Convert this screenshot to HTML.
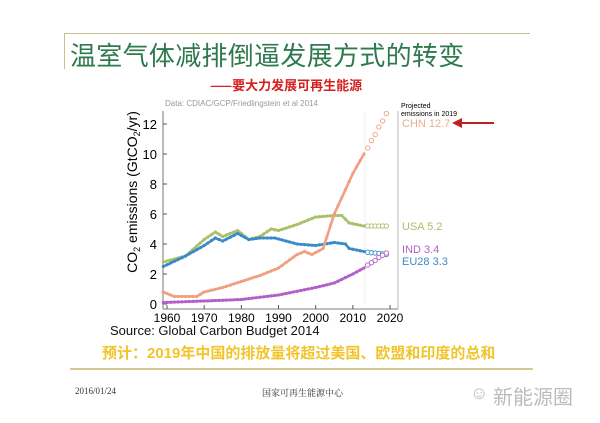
<!DOCTYPE html>
<html><head><meta charset="utf-8"><style>
body{margin:0;width:600px;height:423px;background:#fff;position:relative;overflow:hidden;font-family:"Liberation Sans","Noto Sans CJK SC",sans-serif}
.a{position:absolute;white-space:nowrap}
</style></head><body>
<div class="a" style="left:65px;top:33px;width:465px;height:1px;background:#c8c090"></div>
<div class="a" style="left:64px;top:33px;width:1px;height:36px;background:#c8c090"></div>
<div class="a" style="left:70px;top:36px;font-size:26px;color:#2e7a4e;font-family:'Noto Sans CJK SC',sans-serif;letter-spacing:0.3px">温室气体减排倒逼发展方式的转变</div>
<div class="a" style="left:210px;top:75px;font-size:13px;font-weight:bold;color:#d42020;font-family:'Noto Sans CJK SC',sans-serif">——要大力发展可再生能源</div>
<svg class="a" style="left:0;top:0" width="600" height="423" id="s"></svg>
<div class="a" style="left:110px;top:323px;font-size:13px;color:#111">Source: Global Carbon Budget 2014</div>
<div class="a" style="left:102px;top:342px;font-size:15px;font-weight:bold;color:#f2c42a;font-family:'Liberation Sans','Noto Sans CJK SC',sans-serif">预计：2019年中国的排放量将超过美国、欧盟和印度的总和</div>
<div class="a" style="left:70px;top:368px;width:463px;height:2px;background:#d8c890"></div>
<div class="a" style="left:75px;top:386px;font-size:9px;font-family:'Liberation Serif',serif;color:#333">2016/01/24</div>
<div class="a" style="left:262px;top:386px;font-size:9px;font-family:'Noto Serif CJK SC',serif;color:#333">国家可再生能源中心</div>
<div class="a" style="left:493px;top:381px;font-size:20px;color:#bbb;font-family:'Noto Sans CJK SC',sans-serif">新能源圈</div>
<div class="a" style="left:470px;top:383px;font-size:18px;color:#bbb">☺</div>
<script>
const s=document.getElementById('s');let h='';
const X=y=>167+(y-1960)*3.717, Y=v=>304-v*15;
function interp(k,y){for(let i=0;i<k.length-1;i++){if(y>=k[i][0]&&y<=k[i+1][0]){const t=(y-k[i][0])/(k[i+1][0]-k[i][0]);return k[i][1]+t*(k[i+1][1]-k[i][1]);}}return k[k.length-1][1];}
function series(k,col,end,proj){let pts=[];for(let y=1959;y<=end;y+=0.5)pts.push(X(y).toFixed(1)+','+Y(interp(k,y)).toFixed(1));
h+=`<polyline points="${pts.join(' ')}" fill="none" stroke="${col}" stroke-width="2.6"/>`;
for(let y=1959;y<=end;y++)h+=`<circle cx="${X(y)}" cy="${Y(interp(k,y))}" r="1.6" fill="${col}"/>`;
for(const [y,v] of proj)h+=`<circle cx="${X(y)}" cy="${Y(v)}" r="2.2" fill="#fff" stroke="${col}" stroke-width="0.9"/>`;}
h+=`<line x1="163" y1="111" x2="163" y2="309" stroke="#555" stroke-width="0.8"/><line x1="163" y1="309" x2="398" y2="309" stroke="#555" stroke-width="0.8"/><line x1="398" y1="111" x2="398" y2="309" stroke="#888" stroke-width="0.6"/>`;
h+=`<line x1="365" y1="112" x2="365" y2="304" stroke="#ccc" stroke-width="0.6" stroke-dasharray="1,1"/>`;
for(let v=0;v<=12;v+=2){h+=`<line x1="163" x2="167" y1="${Y(v)}" y2="${Y(v)}" stroke="#555"/><text x="157" y="${Y(v)+5}" font-size="13" text-anchor="end" font-family="Liberation Sans">${v}</text>`;}
for(let y=1960;y<=2020;y+=10){h+=`<line x1="${X(y)}" x2="${X(y)}" y1="305" y2="309" stroke="#555"/><text x="${X(y)}" y="322" font-size="12" text-anchor="middle" font-family="Liberation Sans">${y}</text>`;}
h+=`<text x="165" y="106" font-size="8" fill="#999" font-family="Liberation Sans">Data: CDIAC/GCP/Friedlingstein et al 2014</text>`;
h+=`<text transform="translate(137,192) rotate(-90)" font-size="14" text-anchor="middle" font-family="Liberation Sans">CO<tspan font-size="9" dy="3">2</tspan><tspan dy="-3"> emissions (GtCO</tspan><tspan font-size="9" dy="3">2</tspan><tspan dy="-3">/yr)</tspan></text>`;
series([[1959,2.8],[1965,3.2],[1970,4.3],[1973,4.8],[1975,4.5],[1979,4.9],[1982,4.3],[1985,4.5],[1988,5.0],[1990,4.9],[1995,5.3],[2000,5.8],[2005,5.9],[2007,5.9],[2009,5.4],[2013,5.2]],'#a9c06a',2013,[[2014,5.2],[2015,5.2],[2016,5.2],[2017,5.2],[2018,5.2],[2019,5.2]]);
series([[1959,2.5],[1965,3.2],[1970,3.9],[1973,4.4],[1975,4.2],[1979,4.7],[1982,4.3],[1985,4.4],[1989,4.4],[1995,4.0],[2000,3.9],[2005,4.1],[2008,4.0],[2009,3.7],[2013,3.5]],'#3a8ac8',2013,[[2014,3.45],[2015,3.42],[2016,3.4],[2017,3.37],[2018,3.34],[2019,3.3]]);
series([[1959,0.8],[1962,0.5],[1968,0.5],[1970,0.8],[1975,1.1],[1980,1.5],[1985,1.9],[1990,2.4],[1995,3.3],[1997,3.5],[1999,3.3],[2002,3.7],[2005,6.0],[2010,8.7],[2013,10.0]],'#f0a080',2013,[[2014,10.4],[2015,10.9],[2016,11.3],[2017,11.8],[2018,12.2],[2019,12.7]]);
series([[1959,0.1],[1970,0.2],[1980,0.3],[1990,0.6],[2000,1.1],[2005,1.4],[2010,2.0],[2013,2.4]],'#b060c8',2013,[[2014,2.6],[2015,2.75],[2016,2.9],[2017,3.1],[2018,3.25],[2019,3.4]]);
h+=`<text x="401" y="108" font-size="7" font-family="Liberation Sans">Projected</text><text x="401" y="116" font-size="7" font-family="Liberation Sans">emissions in 2019</text>`;
h+=`<text x="402" y="127" font-size="11" fill="#e8b090" font-family="Liberation Sans">CHN 12.7</text>`;
h+=`<line x1="456" y1="123" x2="494" y2="123" stroke="#c02020" stroke-width="2"/><polygon points="452,123 462,118 462,128" fill="#c02020"/>`;
h+=`<text x="402" y="230" font-size="11" fill="#a9c06a" font-family="Liberation Sans">USA 5.2</text>`;
h+=`<text x="402" y="253" font-size="11" fill="#b060c8" font-family="Liberation Sans">IND 3.4</text>`;
h+=`<text x="402" y="265" font-size="11" fill="#3a8ac8" font-family="Liberation Sans">EU28 3.3</text>`;
s.innerHTML=h;
</script>
</body></html>
